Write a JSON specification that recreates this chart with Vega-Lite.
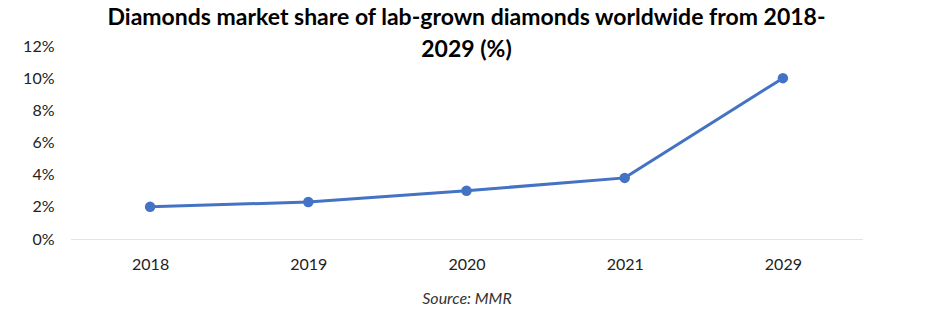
{
  "$schema": "https://vega.github.io/schema/vega-lite/v6.json",
  "width": 791,
  "height": 193,
  "autosize": "none",
  "padding": {"left": 71, "top": 46, "right": 79, "bottom": 83},
  "background": "white",
  "title": {
    "text": ["Diamonds market share of lab-grown diamonds worldwide from 2018-", "2029 (%)"],
    "font": "Lato",
    "fontSize": 23,
    "fontWeight": "bold",
    "color": "#000000",
    "anchor": "middle",
    "lineHeight": 32,
    "offset": -24
  },
  "data": {
    "values": [
      {"year": "2018", "share": 0.02},
      {"year": "2019", "share": 0.023},
      {"year": "2020", "share": 0.03},
      {"year": "2021", "share": 0.038},
      {"year": "2029", "share": 0.10}
    ]
  },
  "config": {"view": {"stroke": null}},
  "mark": {"type": "line", "color": "#4472C4", "strokeWidth": 3, "point": {"filled": true, "size": 110, "color": "#4472C4"}},
  "encoding": {
    "x": {
      "field": "year", "type": "ordinal",
      "scale": {"paddingInner": 0, "paddingOuter": 0.5},
      "axis": {
        "title": "Source: MMR",
        "titleFont": "Lato", "titleFontStyle": "italic", "titleFontWeight": "normal", "titleFontSize": 16, "titleColor": "#333333", "titlePadding": 18,
        "labelAngle": 0, "labelFont": "Lato", "labelFontSize": 16, "labelColor": "#222222", "labelPadding": 17,
        "ticks": false, "domainColor": "#c8c8c8", "domainDash": [1, 1], "domainWidth": 1
      }
    },
    "y": {
      "field": "share", "type": "quantitative",
      "scale": {"domain": [0, 0.12]},
      "axis": {
        "title": null, "format": ".0%", "values": [0, 0.02, 0.04, 0.06, 0.08, 0.1, 0.12],
        "grid": false, "domain": false, "ticks": false,
        "labelFont": "Lato", "labelFontSize": 16, "labelColor": "#222222", "labelPadding": 17
      }
    }
  }
}
